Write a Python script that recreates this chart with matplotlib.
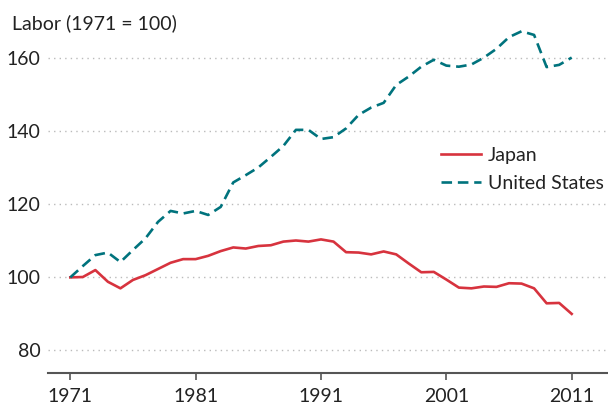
import matplotlib
matplotlib.use("Agg")
import matplotlib.pyplot as plt

years = list(range(1971, 2012))
japan = [100.0, 100.1, 102.0, 98.8, 97.0, 99.3, 100.6, 102.3, 104.0, 105.0,
         105.0, 105.9, 107.2, 108.2, 107.9, 108.6, 108.8, 109.8, 110.1, 109.8,
         110.4, 109.8, 106.9, 106.8, 106.3, 107.1, 106.3, 103.8, 101.4, 101.5,
         99.4, 97.2, 97.0, 97.5, 97.4, 98.4, 98.3, 97.0, 92.9, 93.0, 90.0]
united_states = [100.0, 103.1, 106.1, 106.8, 104.2, 107.5, 110.7, 115.2, 118.2, 117.5,
                 118.2, 117.1, 119.3, 126.0, 128.0, 130.1, 133.0, 136.0, 140.4, 140.4,
                 137.9, 138.4, 140.8, 144.5, 146.5, 147.8, 152.7, 155.0, 157.7, 159.6,
                 158.0, 157.7, 158.3, 160.2, 162.6, 165.8, 167.4, 166.4, 157.6, 158.2, 160.2]
xticks = [1971, 1981, 1991, 2001, 2011]
yticks = [80, 100, 120, 140, 160]
title = "Labor (1971 = 100)"

plt.rcParams['font.family'] = ['Lato', 'DejaVu Sans']
FS = 14

fig = plt.figure(figsize=(6.08, 4.05), dpi=100)
ax = fig.add_axes([0.0785, 0.0798, 0.9195, 0.8664])

red = "#D7333E"
teal = "#00737D"
ax.plot(years, japan, color=red, lw=1.9, label="Japan", solid_joinstyle="round")
ax.plot(years, united_states, color=teal, lw=1.9, label="United States",
        dashes=(4.0, 2.2), dash_capstyle="butt")

ax.set_xlim(1969.2, 2013.8)
ax.set_ylim(73.9, 170)
ax.set_xticks(xticks)
ax.set_xticklabels([str(t) for t in xticks])
ax.set_yticks(yticks)
ax.set_yticklabels([str(t) for t in yticks])

for s in ["top", "right", "left"]:
    ax.spines[s].set_visible(False)
ax.spines["bottom"].set_color("#555555")
ax.spines["bottom"].set_linewidth(1.5)

ax.tick_params(axis="x", direction="out", length=5, width=1.2, color="#555555",
               labelsize=FS, labelcolor="#222222", pad=6)
ax.tick_params(axis="y", length=0, labelsize=FS, labelcolor="#222222", pad=5)

ax.yaxis.grid(True, color="#BBBBBB", linestyle=(0, (1, 3)), linewidth=1.0)
ax.set_axisbelow(True)

fig.text(0.02, 0.942, title, fontsize=FS, color="#222222", ha="left", va="center")

leg = ax.legend(loc="upper left", bbox_to_anchor=(0.69, 0.665), frameon=False,
                fontsize=FS, handlelength=2.05, handletextpad=0.35, labelspacing=0.55,
                borderaxespad=0)
for t in leg.get_texts():
    t.set_color("#222222")

fig.savefig("out.png", dpi=100)
